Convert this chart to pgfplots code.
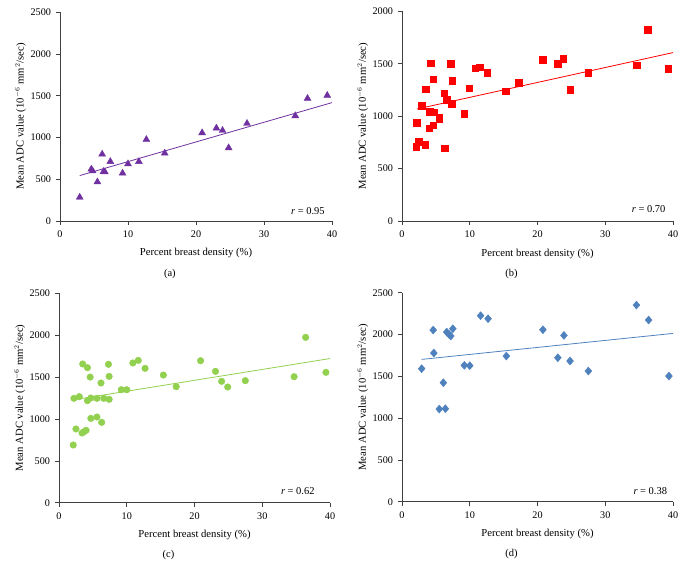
\documentclass[border=0pt]{standalone}
\usepackage{fontspec}
\setmainfont{Liberation Serif}
\usepackage{pgfplots}
\pgfplotsset{compat=1.18}
\definecolor{cpurple}{HTML}{7030A0}
\definecolor{cred}{HTML}{FF0000}
\definecolor{cgreen}{HTML}{92D050}
\definecolor{cblue}{HTML}{4F81BD}
\pgfplotsset{panel/.style={
  scale only axis, anchor=south west,
  xmin=0, xmax=40, ymin=0,
  axis x line*=bottom, axis y line*=left,
  every outer x axis line/.append style={-},
  every outer y axis line/.append style={-},
  axis line style={-, black!75, line width=0.6bp},
  xtick={0,10,20,30,40},
  tick align=outside, major tick length=4bp,
  tick style={black!75, line width=0.6bp},
  tick label style={font=\fontsize{10.2}{11}\selectfont},
  xticklabel style={yshift=-2.5bp},
  yticklabel style={xshift=-1.5bp},
  /pgf/number format/assume math mode=true,
  /pgf/number format/1000 sep={},
  xlabel={Percent breast density (\%)},
  ylabel={Mean ADC value (10$^{-6}$ mm$^{2}$/sec)},
  label style={font=\fontsize{10.7}{12}\selectfont},
  xlabel style={at={(axis description cs:0.5,-0.155)}, anchor=center},
  ylabel style={at={(axis description cs:-0.145,0.5)}, anchor=center},
  clip=false,
}}
\begin{document}
\begin{tikzpicture}[x=1bp,y=1bp]
\path[use as bounding box] (0,0) rectangle (685,577);
% (a)
\begin{axis}[panel, at={(60bp,356bp)}, width=272bp, height=208.7bp,
  ymax=2500, ytick={0,500,1000,1500,2000,2500}]
\addplot[only marks, mark=triangle*, mark size=4bp, color=cpurple] coordinates {
(2.9,284) (4.6,620) (4.8,600) (5.5,468) (6.2,800) (6.4,592) (6.6,588)
(7.4,712) (9.2,572) (10.0,684) (11.6,712) (12.7,976) (15.4,812)
(20.9,1056) (23.0,1112) (23.9,1084) (24.8,876) (27.5,1168)
(34.6,1260) (36.4,1468) (39.3,1504)};
\addplot[no marks, color=cpurple, line width=0.8bp] coordinates {(2.9,544) (40,1418)};
\node[anchor=east, font=\fontsize{10.5}{12}\selectfont] at (axis description cs:0.986,0.048) {\textit{r} = 0.95};
\node[font=\fontsize{10.5}{12}\selectfont] at (axis description cs:0.404,-0.252) {(a)};
\end{axis}
% (b)
\begin{axis}[panel, at={(402bp,356bp)}, width=271bp, height=209.7bp,
  ymax=2000, ytick={0,500,1000,1500,2000}]
\addplot[only marks, mark=square*, mark size=3.3bp, color=cred] coordinates {
(2.2,938) (2.1,709) (2.5,757) (2.9,1097) (3.4,725) (3.5,1256) (4.0,884)
(4.2,1504) (4.1,1043) (4.6,1352) (4.6,913) (4.7,1037) (5.5,989) (5.5,970)
(6.2,1218) (6.3,693) (6.6,1154) (7.2,1498) (7.4,1339) (7.3,1116)
(9.2,1024) (9.9,1266) (10.8,1456) (11.5,1466) (12.6,1415) (15.3,1237)
(17.2,1320) (20.8,1536) (23.0,1498) (23.8,1545) (24.8,1253) (27.5,1415)
(34.6,1485) (36.3,1822) (39.3,1450)};
\addplot[no marks, color=cred, line width=0.8bp] coordinates {(2.2,1068) (40,1606)};
\node[anchor=east, font=\fontsize{10.5}{12}\selectfont] at (axis description cs:0.985,0.056) {\textit{r} = 0.70};
\node[font=\fontsize{10.5}{12}\selectfont] at (axis description cs:0.404,-0.252) {(b)};
\end{axis}
% (c)
\begin{axis}[panel, at={(59bp,74.3bp)}, width=271bp, height=209.4bp,
  ymax=2500, ytick={0,500,1000,1500,2000,2500}]
\addplot[only marks, mark=*, mark size=3.3bp, color=cgreen] coordinates {
(2.1,689) (2.2,1246) (2.5,880) (3.0,1266) (3.4,832) (3.5,1656) (3.7,848)
(4.0,864) (4.2,1218) (4.2,1612) (4.6,1500) (4.7,1007) (4.7,1250)
(5.6,1246) (5.6,1023) (6.2,1429) (6.3,959) (6.6,1246) (7.3,1652)
(7.4,1508) (7.4,1234) (9.2,1349) (10.0,1349) (10.9,1668) (11.7,1699)
(12.7,1604) (15.4,1524) (17.3,1385) (20.9,1695) (23.1,1568) (24.0,1449)
(24.9,1381) (27.5,1457) (34.7,1504) (36.4,1974) (39.4,1556)};
\addplot[no marks, color=cgreen, line width=0.8bp] coordinates {(2.1,1228) (40,1721)};
\node[anchor=east, font=\fontsize{10.5}{12}\selectfont] at (axis description cs:0.956,0.056) {\textit{r} = 0.62};
\node[font=\fontsize{10.5}{12}\selectfont] at (axis description cs:0.404,-0.252) {(c)};
\end{axis}
% (d)
\begin{axis}[panel, at={(402bp,75.3bp)}, width=271bp, height=209bp,
  ymax=2500, ytick={0,500,1000,1500,2000,2500}]
\addplot[only marks, mark=diamond*, mark size=4bp, mark options={xscale=1.15}, color=cblue] coordinates {
(2.9,1591) (4.6,2053) (4.7,1778) (5.5,1108) (6.1,1423) (6.4,1112)
(6.6,2029) (6.9,2005) (7.2,1982) (7.5,2069) (9.2,1631) (10.0,1627)
(11.6,2225) (12.7,2189) (15.4,1742) (20.8,2057) (23.0,1722) (23.9,1989)
(24.8,1683) (27.5,1563) (34.6,2352) (36.4,2173) (39.4,1503)};
\addplot[no marks, color=cblue, line width=0.8bp] coordinates {(2.9,1702) (40,2013)};
\node[anchor=east, font=\fontsize{10.5}{12}\selectfont] at (axis description cs:0.991,0.051) {\textit{r} = 0.38};
\node[font=\fontsize{10.5}{12}\selectfont] at (axis description cs:0.404,-0.252) {(d)};
\end{axis}
\end{tikzpicture}
\end{document}
